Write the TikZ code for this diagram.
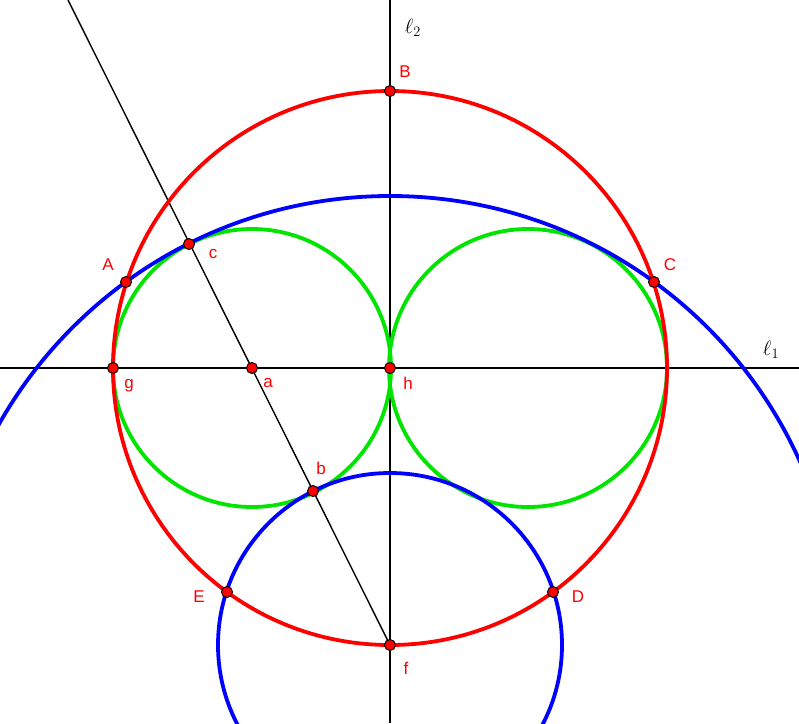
\documentclass[tikz,border=0pt]{standalone}
\usepackage{fontspec}
\setsansfont{Liberation Sans}
\begin{document}
\begin{tikzpicture}[x=1pt,y=-1pt,
  pt/.style={circle,draw=black,fill=red,line width=1pt,inner sep=0pt,minimum size=11pt},
  lbl/.style={text=red,font=\sffamily\fontsize{17}{17}\selectfont},
  ell/.style={font=\fontsize{22}{22}\selectfont},
  ax/.style={black,line width=1.4pt},
  cc/.style={line width=3.8pt}]
\useasboundingbox (0,0) rectangle (799,723);
\begin{scope}
\clip (0,0) rectangle (799,723);
\coordinate (h) at (390,368);
\coordinate (f) at (390,645);
\coordinate (a) at (252,368);
\coordinate (a2) at (528,368);
\coordinate (T) at (68,0);
\draw[ax] (0,368) -- (799,368);
\draw[ax] (390,0) -- (390,723);
\draw[ax] (T) -- (f);
\draw[cc,green!90!black] (a) circle (139);
\draw[cc,green!90!black] (a2) circle (139);
\draw[cc,blue] (f) circle (449);
\draw[cc,blue] (f) circle (172);
\draw[cc,red] (h) circle (277);
\end{scope}
\node[ell] at (413,28) {$\ell_2$};
\node[ell] at (771,350) {$\ell_1$};
\node[pt] (A) at (126,282) {};
\node[pt] (B) at (390,91) {};
\node[pt] (C) at (654,282) {};
\node[pt] (c) at (189,244) {};
\node[pt] (g) at (113,368) {};
\node[pt] (ap) at (252,368) {};
\node[pt] (hp) at (390,368) {};
\node[pt] (b) at (313,491) {};
\node[pt] (E) at (227,592) {};
\node[pt] (D) at (553,592) {};
\node[pt] (fp) at (390,645) {};
\node[lbl] at (108,265) {A};
\node[lbl] at (405,72) {B};
\node[lbl] at (670,265) {C};
\node[lbl] at (213,254) {c};
\node[lbl] at (129,386) {g};
\node[lbl] at (268,383) {a};
\node[lbl] at (408,383) {h};
\node[lbl] at (321,468) {b};
\node[lbl] at (199,597) {E};
\node[lbl] at (578,597) {D};
\node[lbl] at (406,668) {f};
\end{tikzpicture}
\end{document}
